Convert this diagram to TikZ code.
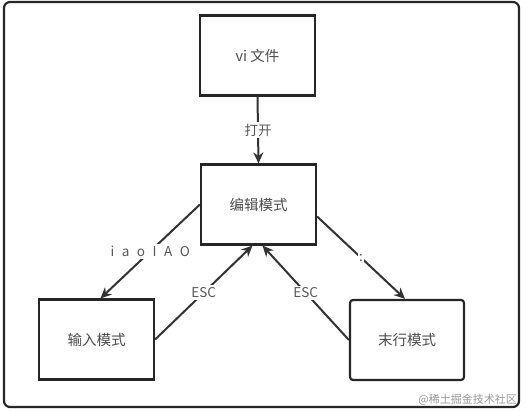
\documentclass[tikz,border=0pt]{standalone}
\usepackage{fontspec}
\setmainfont{Noto Sans CJK SC}
\usetikzlibrary{arrows.meta}
\begin{document}
\begin{tikzpicture}[x=1pt,y=-1pt,
 box/.style={draw=black!85, line width=2.2pt, minimum width=115pt, minimum height=80pt, inner sep=0pt, font=\fontsize{14.5}{16}\selectfont, text=black!70},
 conn/.style={draw=black!80, line width=2pt, -{Stealth[length=11pt,width=10pt]}},
 lbl/.style={fill=white, inner sep=2pt, font=\fontsize{13.5}{15}\selectfont, text=black!65}]
\useasboundingbox (0,0) rectangle (525,411);
\draw[draw=black!85, line width=2.2pt, rounded corners=6pt] (4,2) rectangle (519,407);
\node[box] (vi) at (257.5,55.5) {vi 文件};
\node[box] (edit) at (258.5,204.5) {编辑模式};
\node[box] (input) at (96.5,339.5) {输入模式};
\node[box, rounded corners=3pt, minimum width=114pt] (last) at (407,340) {末行模式};
\draw[conn] (vi.south) -- node[lbl] (l1) {打开} (edit.north);
\draw[conn] (edit.west) -- node[lbl] (l2) {i\,\, a\,\, o\,\, I\,\, A\,\, O} ([xshift=4pt]input.north);
\draw[conn] (input.east) -- node[lbl] (l3) {ESC} ([xshift=-6pt]edit.south);
\draw[conn] (last.west) -- node[lbl] (l4) {ESC} ([xshift=4pt]edit.south);
\draw[conn] ([yshift=-12pt]edit.east) -- node[lbl, inner sep=1pt] (l5) {:} ([xshift=-2pt]last.north);
\node[anchor=east, font=\fontsize{11}{12}\selectfont, text=black!40, inner sep=0pt] (wm) at (517,400) {@稀土掘金技术社区};
\end{tikzpicture}
\end{document}
